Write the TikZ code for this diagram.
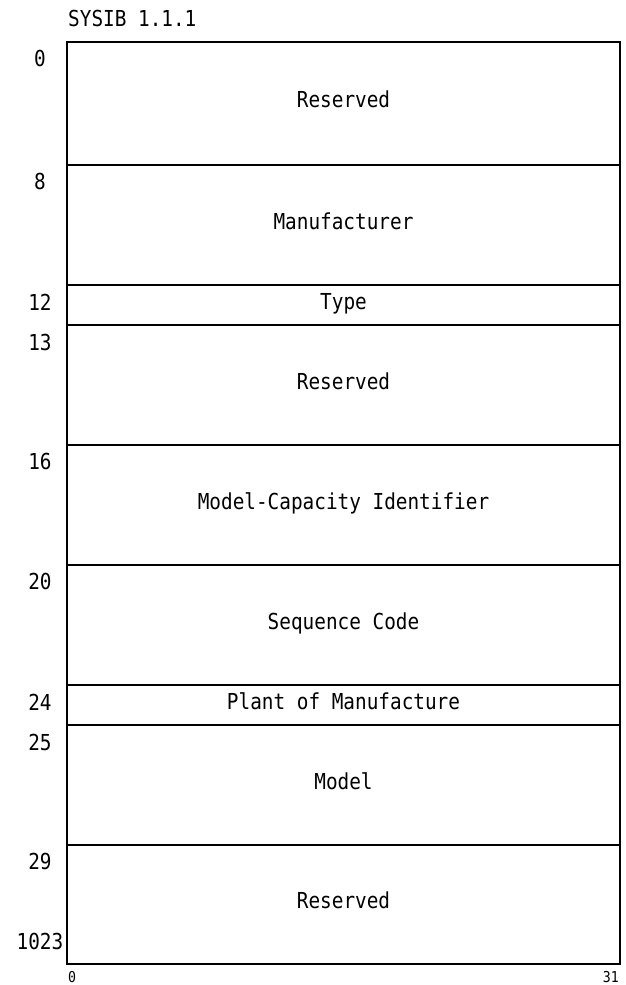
\documentclass[tikz,border=0pt]{standalone}
\usepackage{fontspec}
\newfontfamily\dmono[FakeStretch=0.88]{DejaVu Sans Mono}
\begin{document}
\begin{tikzpicture}[x=1pt,y=-1pt,
  field/.style={draw, line width=2.2pt, rectangle, minimum width=553pt, inner sep=0pt, outer sep=0pt, anchor=north west},
  ftext/.style={font=\dmono\fontsize{22}{26}\selectfont, anchor=base, inner sep=0pt},
  offs/.style={font=\dmono\fontsize{22}{26}\selectfont, anchor=center, inner sep=0pt},
  bits/.style={font=\dmono\fontsize{15}{17}\selectfont, inner sep=0pt}]
\useasboundingbox (0,0) rectangle (626,985);
% title
\node[offs, anchor=west] (title) at (68,18) {SYSIB 1.1.1};
% rows
\node[field, minimum height=123pt] (r1) at (67,42) {};
\node[field, minimum height=120pt] (r2) at (67,165) {};
\node[field, minimum height=40pt]  (r3) at (67,285) {};
\node[field, minimum height=120pt] (r4) at (67,325) {};
\node[field, minimum height=120pt] (r5) at (67,445) {};
\node[field, minimum height=120pt] (r6) at (67,565) {};
\node[field, minimum height=40pt]  (r7) at (67,685) {};
\node[field, minimum height=120pt] (r8) at (67,725) {};
\node[field, minimum height=119pt] (r9) at (67,845) {};
% row texts
\node[ftext] (t1) at ([yshift=-4pt]r1.center) {Reserved};
\node[ftext] (t2) at ([yshift=-4pt]r2.center) {Manufacturer};
\node[ftext] (t3) at ([yshift=-4.5pt]r3.center) {Type};
\node[ftext] (t4) at ([yshift=-4pt]r4.center) {Reserved};
\node[ftext] (t5) at ([yshift=-4pt]r5.center) {Model-Capacity Identifier};
\node[ftext] (t6) at ([yshift=-4pt]r6.center) {Sequence Code};
\node[ftext] (t7) at ([yshift=-4.5pt]r7.center) {Plant of Manufacture};
\node[ftext] (t8) at ([yshift=-4pt]r8.center) {Model};
\node[ftext] (t9) at ([yshift=-4pt]r9.center) {Reserved};
% byte offsets
\node[offs] (o1) at (40,58) {0};
\node[offs] (o2) at (40,181) {8};
\node[offs] (o3) at (40,302) {12};
\node[offs] (o4) at (40,342) {13};
\node[offs] (o5) at (40,461) {16};
\node[offs] (o6) at (40,581) {20};
\node[offs] (o7) at (40,702) {24};
\node[offs] (o8) at (40,742) {25};
\node[offs] (o9) at (40,861) {29};
\node[offs] (o10) at (40,941) {1023};
% bit numbers
\node[bits, anchor=base west] (b0) at (68,982) {0};
\node[bits, anchor=base east] (b31) at (619,982) {31};
\end{tikzpicture}
\end{document}
